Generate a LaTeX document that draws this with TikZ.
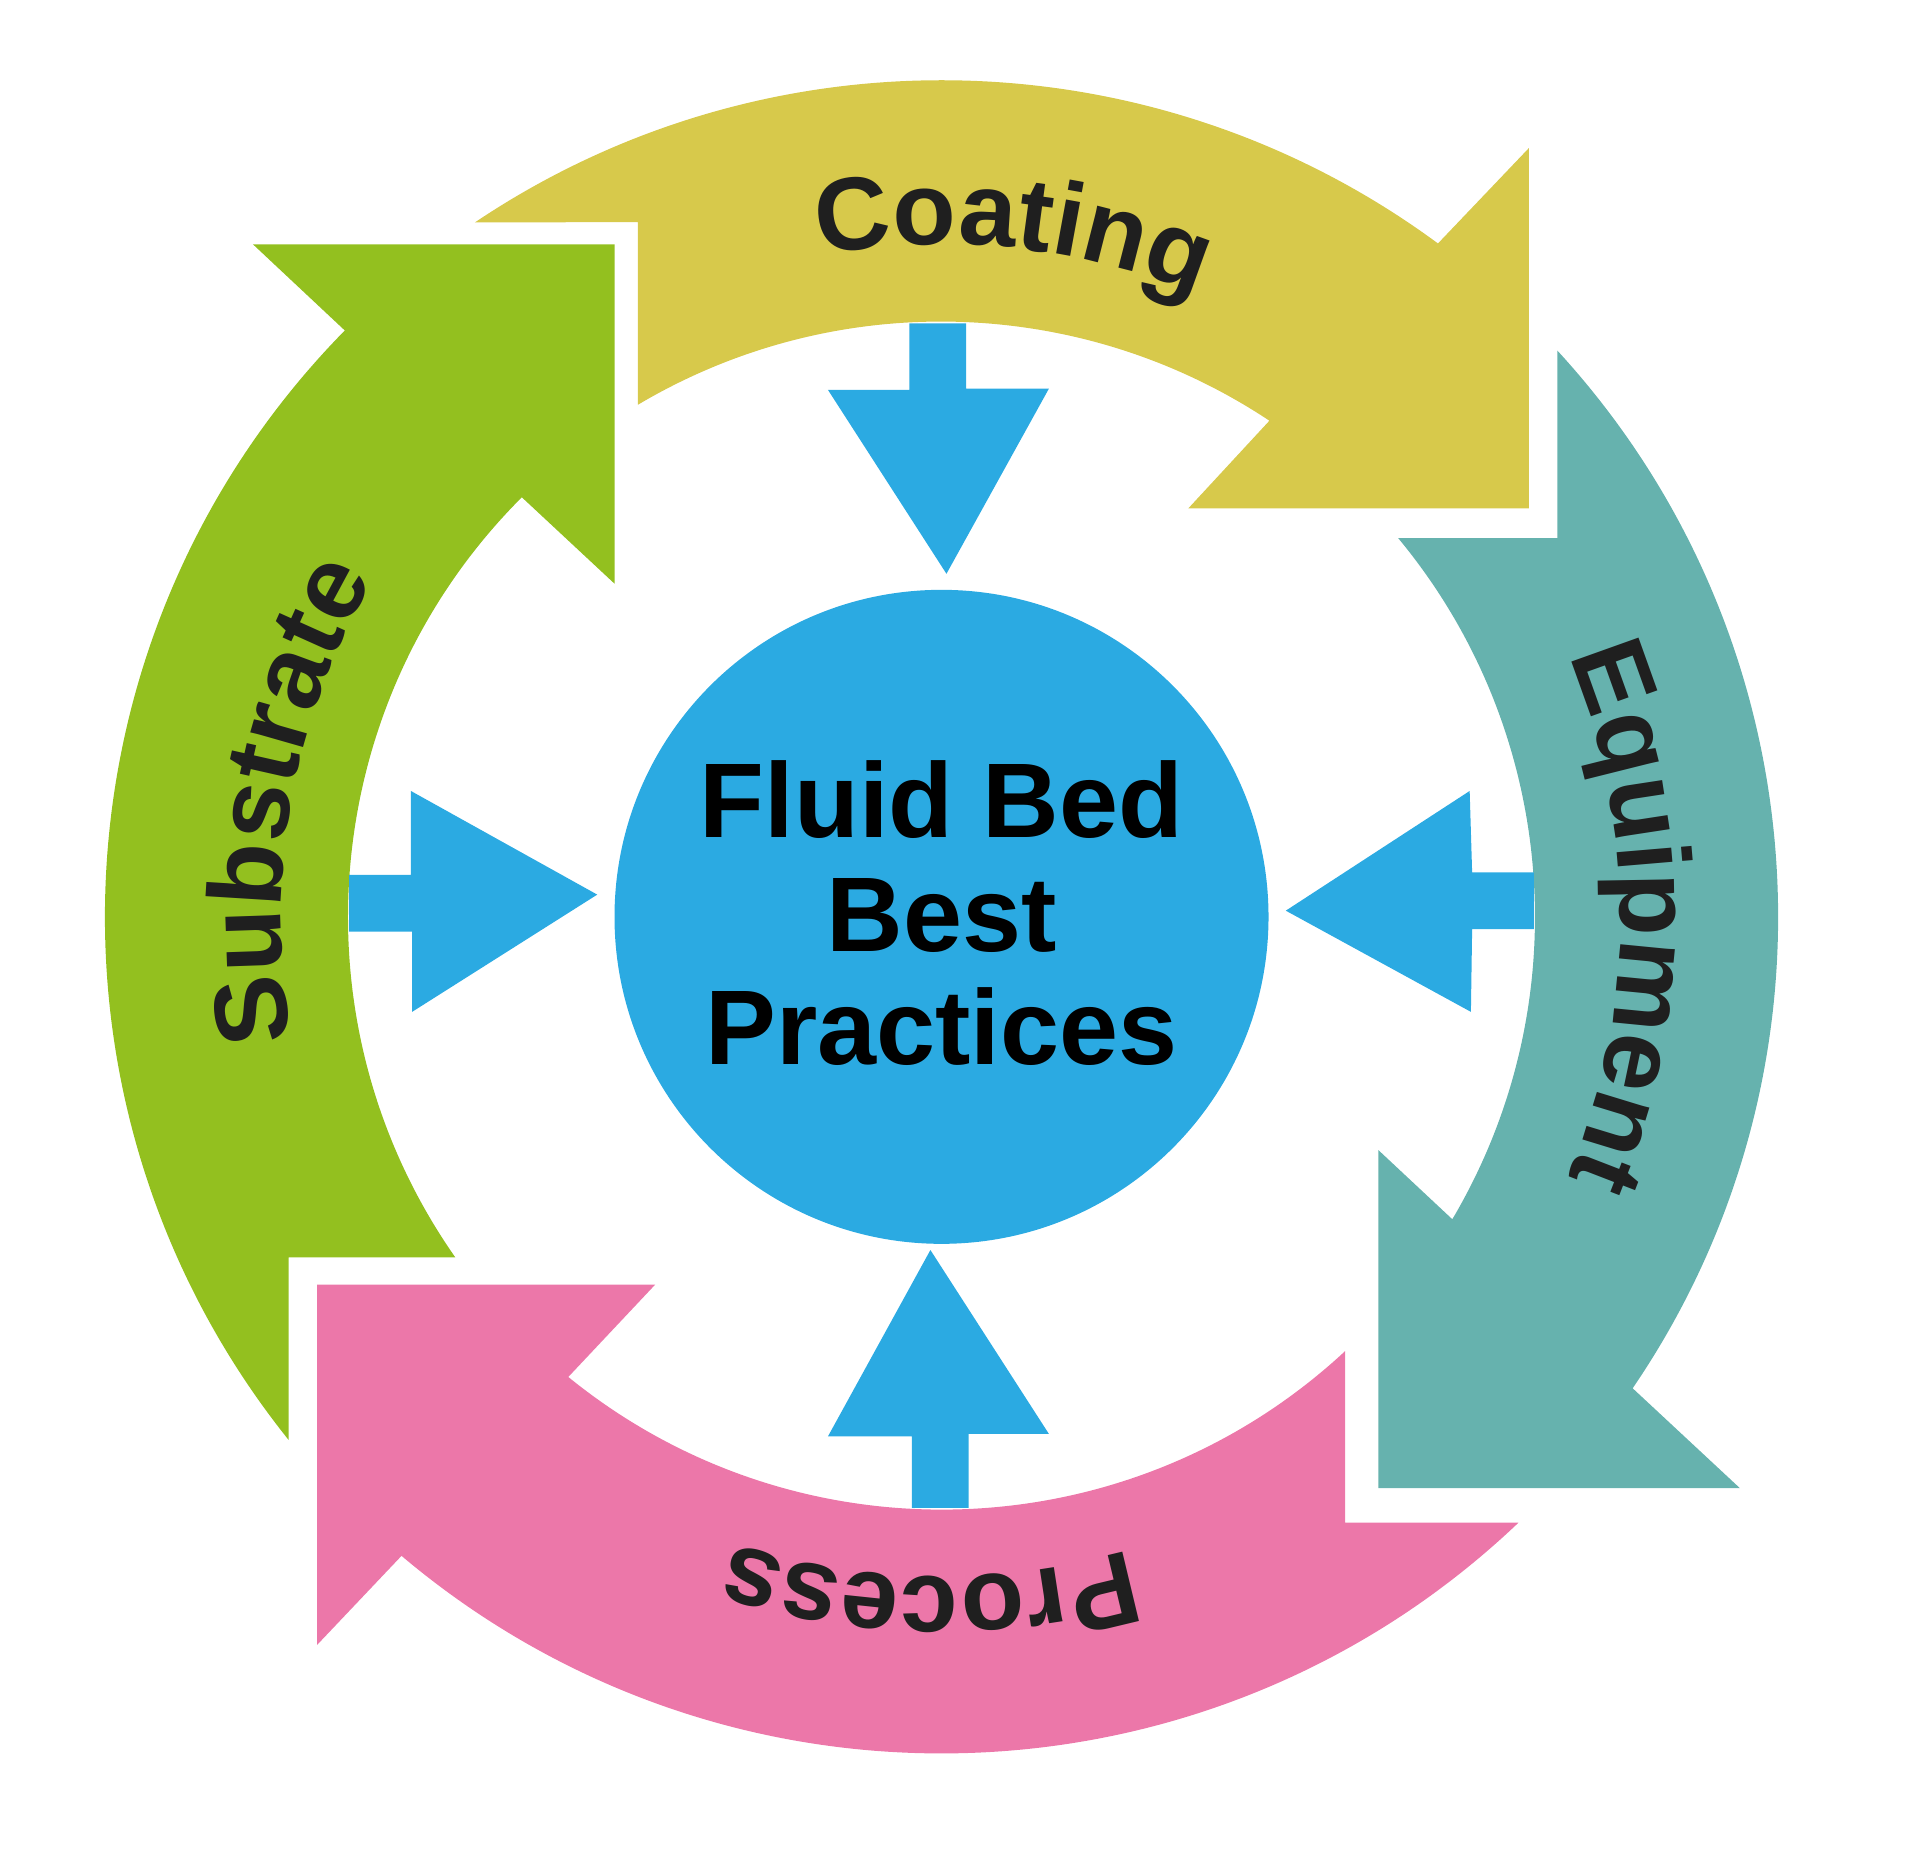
\documentclass[tikz,border=0pt]{standalone}
\usepackage{fontspec}
\setmainfont{Liberation Sans}
\usetikzlibrary{decorations.text}
\definecolor{coatcol}{HTML}{D7C94B}
\definecolor{equipcol}{HTML}{66B2AE}
\definecolor{proccol}{HTML}{EC77A9}
\definecolor{substcol}{HTML}{93C01F}
\definecolor{bluecol}{HTML}{2BAAE2}
\definecolor{inkcol}{HTML}{1F1F1F}
\newcommand{\ringfont}{\bfseries\fontsize{84}{84}\selectfont\color{inkcol}}
\tikzset{
    band/.style={draw=none},
    feed/.style={fill=bluecol,draw=none},
    ringlabel/.style={decorate,decoration={text along path,text align=center,text={|\ringfont|#1}}}
}
\begin{document}
\begin{tikzpicture}[x=1pt,y=1pt]
    \useasboundingbox (-763,-755) rectangle (797,743);

    % four ring arrows
    \fill[band,coatcol] (123.9:678pt) -- (-246,563) -- (-246,415)
        arc[start angle=120.7,end angle=56.4,radius=481pt] -- (200,331) -- (476,331) -- (476,623)
        -- (53.6:678pt) arc[start angle=53.6,end angle=123.9,radius=678pt] -- cycle;
    \fill[band,equipcol] (42.6:678pt) -- (499,307) -- (370,307)
        arc[start angle=39.7,end angle=-30.6,radius=481pt] -- (354,-189) -- (354,-463) -- (647,-463)
        -- (-34.3:678pt) arc[start angle=-34.3,end angle=42.6,radius=678pt] -- cycle;
    \fill[band,proccol] (-46.4:678pt) -- (327,-491) -- (327,-352)
        arc[start angle=-47.1,end angle=-129.1,radius=480pt] -- (-232,-298) -- (-506,-298) -- (-506,-590)
        -- (229.8:678pt) arc[start angle=229.8,end angle=313.6,radius=678pt] -- cycle;
    \fill[band,substcol] (218.7:678pt) -- (-529,-276) -- (-394,-276)
        arc[start angle=215,end angle=135,radius=481pt] -- (-265,270) -- (-265,545) -- (-558,545)
        -- (135.5:678pt) arc[start angle=135.5,end angle=218.7,radius=678pt] -- cycle;

    % centre
    \node[circle,fill=bluecol,minimum size=530pt,inner sep=0pt] (hub) at (0,0) {};
    \node[align=center,font=\bfseries\fontsize{86}{92}\selectfont] (title) at (0,3) {Fluid Bed\\Best\\ Practices};

    % feed arrows
    \fill[feed] (-26,481) -- (20,481) -- (20,428) -- (87,428) -- (4,278) -- (-92,427) -- (-26,427) -- cycle;
    \fill[feed] (480,36) -- (480,-10) -- (430,-10) -- (429,-77) -- (279,5) -- (428,102) -- (430,36) -- cycle;
    \fill[feed] (-24,-479) -- (22,-479) -- (22,-419) -- (87,-419) -- (-9,-270) -- (-92,-421) -- (-24,-421) -- cycle;
    \fill[feed] (-480,34) -- (-480,-12) -- (-429,-12) -- (-429,-77) -- (-279,18) -- (-430,102) -- (-430,34) -- cycle;

    % ring labels
    \path[ringlabel=Coating] (114:545pt) arc[start angle=114,end angle=54,radius=545pt];
    \path[ringlabel=Equipment] (42:550pt) arc[start angle=42,end angle=-42,radius=550pt];
    \path[ringlabel=Process] (-58:535pt) arc[start angle=-58,end angle=-124,radius=535pt];
    \path[ringlabel=Substrate] (215:535pt) arc[start angle=215,end angle=125,radius=535pt];
\end{tikzpicture}
\end{document}
